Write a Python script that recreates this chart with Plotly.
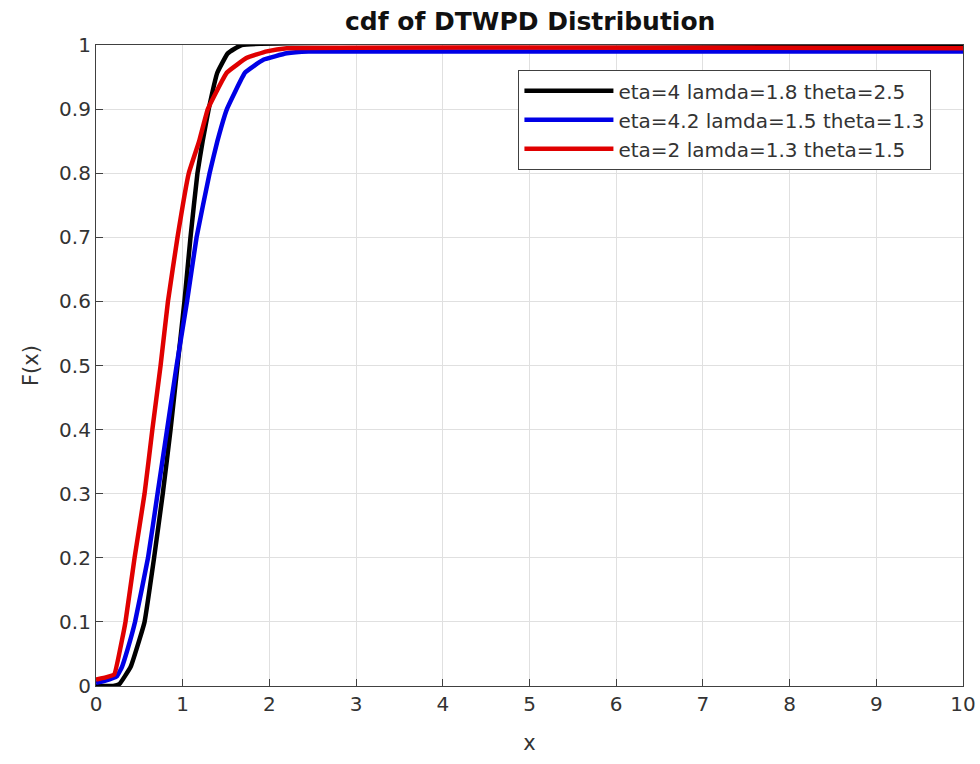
import plotly.graph_objects as go

# Series 1: eta=4 lamda=1.8 theta=2.5 (black)
x_black = [0, 0.2, 0.27, 0.4, 0.5, 0.56, 0.67, 0.77, 0.86, 0.94, 1.02, 1.09, 1.17, 1.23, 1.30, 1.40, 1.52, 1.68, 10]
y_black = [0.0, 0.0, 0.003, 0.03, 0.072, 0.1, 0.2, 0.3, 0.4, 0.5, 0.6, 0.7, 0.8, 0.85, 0.9, 0.957, 0.987, 1.0, 1.0]

# Series 2: eta=4.2 lamda=1.5 theta=1.3 (blue)
x_blue = [0, 0.1, 0.24, 0.3, 0.37, 0.45, 0.60, 0.71, 0.82, 0.93, 1.05, 1.16, 1.31, 1.40, 1.51, 1.72, 1.93, 2.2, 2.45, 10]
y_blue = [0.005, 0.008, 0.015, 0.03, 0.06, 0.1, 0.2, 0.3, 0.4, 0.5, 0.6, 0.7, 0.8, 0.85, 0.9, 0.957, 0.977, 0.987, 0.99, 0.99]

# Series 3: eta=2 lamda=1.3 theta=1.5 (red)
x_red = [0, 0.1, 0.21, 0.3, 0.34, 0.445, 0.56, 0.65, 0.745, 0.83, 0.94, 1.07, 1.19, 1.29, 1.51, 1.74, 1.97, 2.2, 10]
y_red = [0.01, 0.013, 0.018, 0.072, 0.1, 0.2, 0.3, 0.4, 0.5, 0.6, 0.7, 0.8, 0.85, 0.9, 0.957, 0.98, 0.99, 0.995, 0.995]

names = ["eta=4 lamda=1.8 theta=2.5", "eta=4.2 lamda=1.5 theta=1.3", "eta=2 lamda=1.3 theta=1.5"]
colors = ["#000000", "#0000e6", "#e00000"]

x_ticks = list(range(0, 11))
y_ticks = [0, 0.1, 0.2, 0.3, 0.4, 0.5, 0.6, 0.7, 0.8, 0.9, 1]
y_ticklabels = ["0", "0.1", "0.2", "0.3", "0.4", "0.5", "0.6", "0.7", "0.8", "0.9", "1"]

FONT = "DejaVu Sans"

fig = go.Figure()
for xs, ys, nm, c in [(x_black, y_black, names[0], colors[0]),
                      (x_blue, y_blue, names[1], colors[1]),
                      (x_red, y_red, names[2], colors[2])]:
    fig.add_trace(go.Scatter(x=xs, y=ys, mode="lines", name=nm,
                             line=dict(color=c, width=4.5, shape="spline", smoothing=0.3)))

axis_common = dict(showgrid=True, gridcolor="#e0e0e0", gridwidth=1,
                   showline=True, linecolor="#404040", linewidth=1.2, mirror=True,
                   ticks="inside", ticklen=7, tickcolor="#404040",
                   tickfont=dict(family=FONT, size=20, color="#333333"),
                   zeroline=False, automargin=False)

fig.update_layout(
    width=980, height=764,
    paper_bgcolor="white", plot_bgcolor="white",
    margin=dict(l=96, r=17, t=45, b=78),
    title=dict(text="<b>cdf of DTWPD Distribution</b>", x=0.541, xanchor="center",
               y=0.984, yanchor="top",
               font=dict(family=FONT, size=25, color="#111111")),
    xaxis=dict(range=[0, 10], tickvals=x_ticks, title=dict(text="x", standoff=20,
               font=dict(family=FONT, size=21, color="#333333")), **axis_common),
    yaxis=dict(range=[0, 1], tickvals=y_ticks, ticktext=y_ticklabels,
               title=dict(text="F(x)", standoff=14,
               font=dict(family=FONT, size=21, color="#333333")), **axis_common),
    legend=dict(x=0.487, y=0.883, xanchor="left", yanchor="middle",
                bgcolor="white", bordercolor="#404040", borderwidth=1.2,
                font=dict(family=FONT, size=20, color="#333333"),
                itemwidth=89, tracegroupgap=0),
    showlegend=True,
)

fig.write_html("out.html")
